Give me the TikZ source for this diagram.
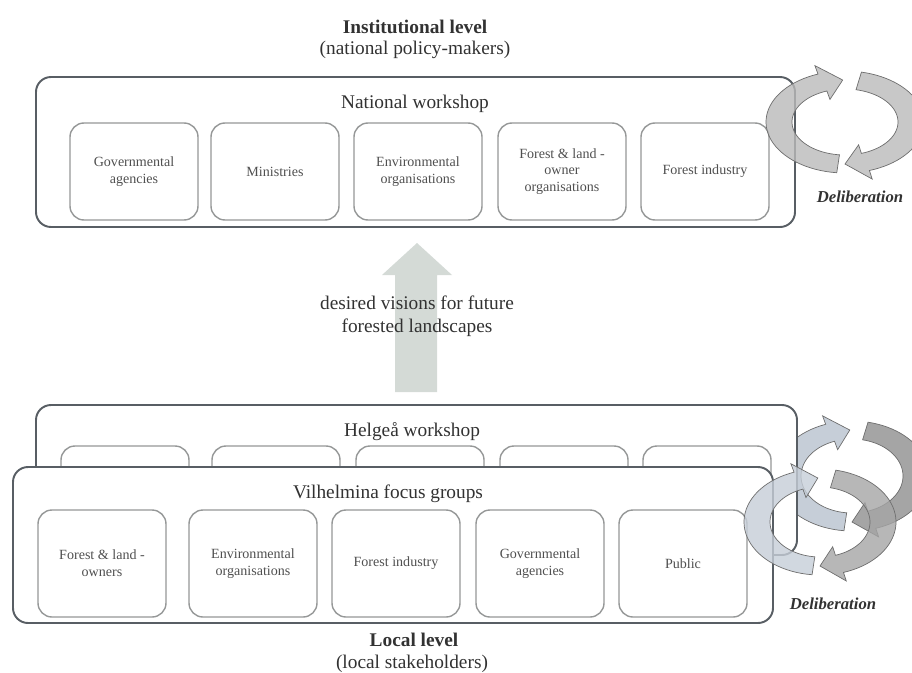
\documentclass[tikz,border=0pt]{standalone}
\usepackage{fontspec}
\setmainfont{Liberation Serif}
\definecolor{boxdark}{RGB}{88,94,100}
\definecolor{boxlight}{RGB}{150,152,152}
\definecolor{txtgray}{RGB}{50,50,50}
\definecolor{lbltxt}{RGB}{80,80,80}
\definecolor{visionarrow}{RGB}{212,218,214}
\definecolor{ringgray}{RGB}{186,186,186}
\definecolor{ringblue}{RGB}{198,206,216}
\definecolor{ringdark}{RGB}{165,165,165}
\definecolor{ringline}{RGB}{110,110,110}
% cx, cy, rx, ry, start angle, head base angle, tip angle, style
\newcommand{\ringarrow}[8]{%
  \filldraw[#8] plot[domain=#5:#6, samples=40] ({#1+(#3+13)*cos(\x)}, {#2+(#4+9)*sin(\x)})
    -- ({#1+(#3+22)*cos(#6)}, {#2+(#4+18)*sin(#6)})
    -- ({#1+#3*cos(#7)}, {#2+#4*sin(#7)})
    -- ({#1+(#3-22)*cos(#6)}, {#2+(#4-18)*sin(#6)})
    -- plot[domain=#6:#5, samples=40] ({#1+(#3-13)*cos(\x)}, {#2+(#4-9)*sin(\x)})
    -- cycle;}
\begin{document}
\begin{tikzpicture}[x=0.2mm, y=-0.2mm,
  every node/.style={text=txtgray},
  outerbox/.style={draw=boxdark, line width=1.1pt, rounded corners=3mm, fill=white},
  innerbox/.style={draw=boxlight, line width=0.8pt, rounded corners=2.8mm, fill=white,
    minimum width=25.6mm, align=center, text=lbltxt, font=\fontsize{8}{9.5}\selectfont},
  heading/.style={font=\fontsize{11}{13}\selectfont, align=center},
  delib/.style={font=\fontsize{9.5}{11}\selectfont\bfseries\itshape},
  ring/.style={fill=ringgray, draw=ringline, line width=0.4pt, fill opacity=0.8},
  ringA/.style={ring, fill=ringblue},
  ringB/.style={ring, fill=ringdark}]
\useasboundingbox (0,0) rectangle (912,672);
\node[heading, font=\fontsize{11}{13}\selectfont\bfseries] (IL) at (415,27) {Institutional level};
\node[heading] (NPM) at (415,50) {(national policy-makers)};
\node[outerbox, minimum width=151.8mm, minimum height=30mm] (NW) at (415.5,152) {};
\node[heading] (NWT) at (415,104) {National workshop};
\foreach \cx/\txt [count=\i] in {134/{Governmental\\agencies}, 275/Ministries,
    418/{Environmental\\organisations}, 562/{Forest \& land -\\owner\\organisations},
    705/Forest industry}
  \node[innerbox, minimum height=19.4mm] (N\i) at (\cx,171.5) {\txt};
\ringarrow{845}{122}{66}{42}{96}{250}{268}{ring}
\ringarrow{845}{122}{66}{42}{282}{432}{450}{ring}
\node[delib] (D1) at (860,197) {Deliberation};
\fill[visionarrow] (395,392) -- (395,275) -- (382,275) -- (417,243) -- (452,275)
  -- (437,275) -- (437,392) -- cycle;
\node[heading] (VIS) at (417,316) {desired visions for future\\forested landscapes};
\ringarrow{852}{476}{64}{46}{96}{250}{268}{ringA, fill opacity=1}
\ringarrow{852}{476}{64}{46}{282}{432}{450}{ringB, fill opacity=1}
\node[outerbox, minimum width=152.2mm, minimum height=30mm] (HW) at (416.5,480) {};
\node[heading] (HWT) at (412,432) {Helgeå workshop};
\foreach \cx [count=\i] in {125,276,420,564,707}
  \node[innerbox, minimum height=20mm] (H\i) at (\cx,496) {};
\node[outerbox, minimum width=152mm, minimum height=31.2mm] (VF) at (393,545) {};
\node[heading] (VFT) at (388,494) {Vilhelmina focus groups};
\foreach \cx/\txt [count=\i] in {102/{Forest \& land -\\owners}, 253/{Environmental\\organisations},
    396/Forest industry, 540/{Governmental\\agencies}, 683/Public}
  \node[innerbox, minimum height=21.4mm] (V\i) at (\cx,563.5) {\txt};
\ringarrow{820}{522}{63}{44}{96}{250}{268}{ringA}
\ringarrow{820}{522}{63}{44}{282}{432}{450}{ringB}
\node[delib] (D2) at (833,604) {Deliberation};
\node[heading, font=\fontsize{11}{13}\selectfont\bfseries] (LL) at (414,640) {Local level};
\node[heading] (LS) at (412,664) {(local stakeholders)};
\end{tikzpicture}
\end{document}
